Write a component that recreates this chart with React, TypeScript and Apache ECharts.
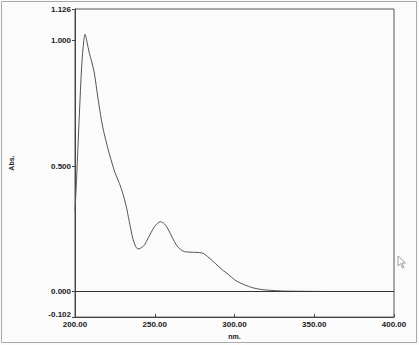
import React, { useEffect, useRef } from "react";
import * as echarts from "echarts";

const wavelengths = [
  200, 201, 202.7, 204.2, 205.5, 206.3, 207.5, 209, 210.5, 212, 213.3, 214.3, 216, 217.4, 220,
  222.6, 225, 227.9, 230, 232.1, 234, 236.3, 238, 239.4, 241, 243.6, 246, 247.8, 250, 253.5, 256,
  258.3, 261, 263.5, 266, 268.7, 272, 275, 278, 280.3, 283, 286.6, 290, 293, 296, 300.2, 304, 308.6,
  312, 317, 322, 329.6, 340, 360, 380, 400,
];
const absorbance = [
  0.32, 0.45, 0.7, 0.9, 1.0, 1.025, 0.995, 0.95, 0.915, 0.875, 0.82, 0.775, 0.705, 0.655, 0.585,
  0.525, 0.475, 0.43, 0.39, 0.34, 0.28, 0.21, 0.18, 0.17, 0.172, 0.186, 0.215, 0.236, 0.26, 0.278,
  0.27, 0.249, 0.215, 0.186, 0.168, 0.159, 0.157, 0.156, 0.155, 0.152, 0.14, 0.12, 0.1, 0.083, 0.069,
  0.046, 0.033, 0.021, 0.014, 0.008, 0.005, 0.002, 0.001, 0.0, 0.0, 0.0,
];
const yTickValues = [-0.102, 0, 0.5, 1.0, 1.126];
const xMin = 200;
const xMax = 400;
const xInterval = 50;

export default function App() {
  const ref = useRef<HTMLDivElement>(null);
  useEffect(() => {
    if (!ref.current) return;
    const chart = echarts.init(ref.current, undefined, { renderer: "svg" });
    const font = { fontFamily: "Liberation Sans", fontSize: 8, color: "#1a1a1a" };
    chart.setOption({
      animation: false,
      backgroundColor: "#fbfbfb",
      grid: {
        left: 74,
        right: 25,
        top: 9,
        bottom: 16,
        show: true,
        borderColor: "#555",
        borderWidth: 1,
        backgroundColor: "transparent",
      },
      xAxis: {
        type: "value",
        min: xMin,
        max: xMax,
        interval: xInterval,
        name: "nm.",
        nameLocation: "middle",
        nameGap: 9,
        nameTextStyle: { ...font, fontSize: 7, fontWeight: "bold" },
        axisLine: { onZero: false, lineStyle: { color: "#444", width: 1 } },
        axisTick: { inside: true, length: 3, lineStyle: { color: "#444" } },
        axisLabel: {
          ...font,
          fontWeight: "bold",
          margin: 3,
          formatter: (v: number) => v.toFixed(2),
        },
        splitLine: { show: false },
      },
      yAxis: {
        type: "value",
        min: yTickValues[0],
        max: yTickValues[yTickValues.length - 1],
        name: "Abs.",
        nameLocation: "middle",
        nameGap: 60,
        nameTextStyle: { ...font, fontSize: 7, fontWeight: "bold" },
        axisLine: { show: true, lineStyle: { color: "#444", width: 1 } },
        axisTick: {
          show: true,
          length: 3,
          customValues: yTickValues,
          lineStyle: { color: "#444" },
        },
        axisLabel: {
          ...font,
          fontWeight: "bold",
          margin: 4,
          customValues: yTickValues,
          formatter: (v: number) =>
            v < 0 ? `{low|${v.toFixed(3)}}` : v.toFixed(3),
          rich: {
            low: { ...font, fontWeight: "bold", padding: [0, 0, 6, 0] },
          },
        },
        splitLine: { show: false },
      },
      series: [
        {
          type: "line",
          data: wavelengths.map((w, i) => [w, absorbance[i]]),
          smooth: 0.3,
          symbol: "none",
          lineStyle: { color: "#555", width: 1 },
          markLine: {
            silent: true,
            symbol: "none",
            label: { show: false },
            lineStyle: { color: "#333", width: 1, type: "solid" },
            data: [{ yAxis: 0 }],
          },
        },
      ],
      graphic: [
        {
          type: "rect",
          shape: { x: 1.5, y: 1.5, width: 415, height: 341 },
          style: { fill: "none", stroke: "#aaa", lineWidth: 1 },
          silent: true,
        },
        {
          type: "polygon",
          shape: {
            points: [
              [398, 256],
              [398, 266],
              [400.5, 263.5],
              [402.5, 268],
              [404, 267.3],
              [402, 263],
              [405.5, 263],
            ],
          },
          style: { fill: "#fff", stroke: "#888", lineWidth: 0.8 },
          silent: true,
        },
      ],
    });
    return () => chart.dispose();
  }, []);
  return (
    <div
      ref={ref}
      style={{ position: "fixed", left: 0, top: 0, width: 419, height: 345 }}
    />
  );
}
